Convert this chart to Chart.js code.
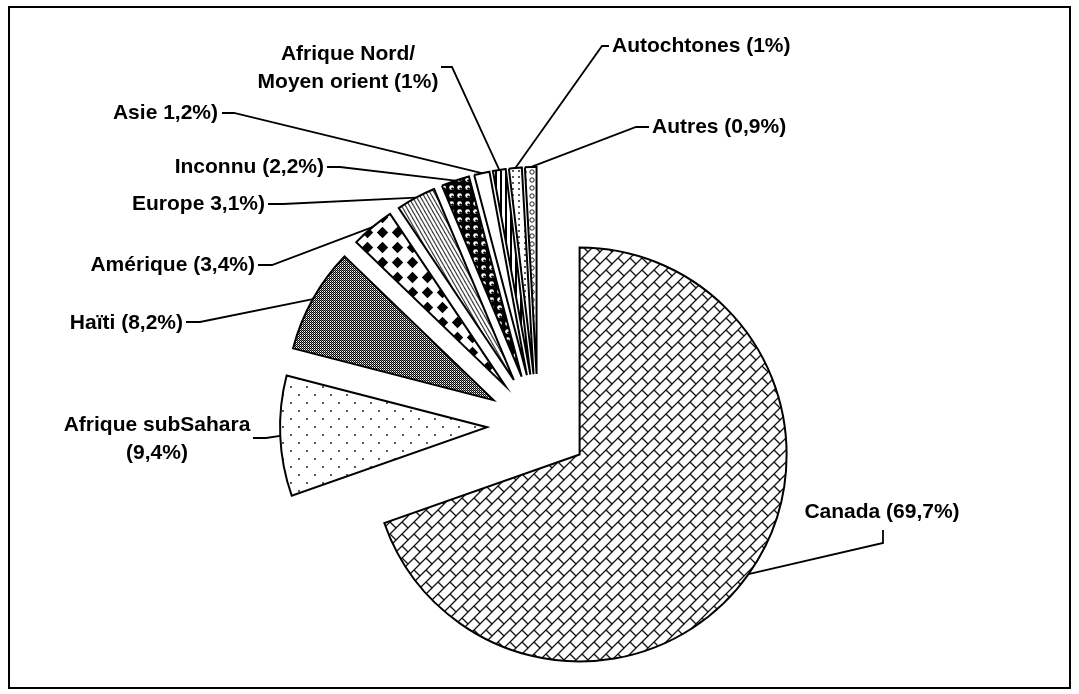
<!DOCTYPE html>
<html lang="fr">
<head>
<meta charset="utf-8">
<title>Origine</title>
<script src="https://cdn.jsdelivr.net/npm/chart.js@4.4.1/dist/chart.umd.min.js"></script>
<style>
    html, body { margin: 0; padding: 0; background: #fff; }
    canvas { display: block; }
</style>
</head>
<body>
<canvas id="chart" width="1079" height="694"></canvas>
<script>
// Data
const categories = ['Canada', 'Afrique subSahara', 'Haïti', 'Amérique', 'Europe', 'Inconnu', 'Asie', 'Afrique Nord/Moyen orient', 'Autochtones', 'Autres'];
const shares = [69.7, 9.4, 8.2, 3.4, 3.1, 2.2, 1.2, 1, 1, 0.9];
const labelTexts = [
    ['Canada (69,7%)'],
    ['Afrique subSahara', '(9,4%)'],
    ['Haïti (8,2%)'],
    ['Amérique (3,4%)'],
    ['Europe 3,1%)'],
    ['Inconnu (2,2%)'],
    ['Asie 1,2%)'],
    ['Afrique Nord/', 'Moyen orient (1%)'],
    ['Autochtones (1%)'],
    ['Autres (0,9%)']
];

const EXPLODE = 51;
const FONT = 'bold 21px "Liberation Sans", Arial, sans-serif';

// label layout: elbow point, stub end, text anchor, alignment
const labelLayout = [
    { elbow: [883, 543], stub: [883, 530], text: [882, 512], align: 'center' },
    { elbow: [266, 438], stub: [253, 438], text: [157, 439], align: 'center' },
    { elbow: [200, 322], stub: [186, 322], text: [183, 323], align: 'right' },
    { elbow: [272, 265], stub: [258, 265], text: [255, 265], align: 'right' },
    { elbow: [283, 204], stub: [268, 204], text: [265, 204], align: 'right' },
    { elbow: [340, 167], stub: [327, 167], text: [324, 167], align: 'right' },
    { elbow: [234, 113], stub: [222, 113], text: [218, 113], align: 'right' },
    { elbow: [452, 67], stub: [441, 67], text: [348, 68], align: 'center' },
    { elbow: [602, 46], stub: [609, 46], text: [612, 46], align: 'left' },
    { elbow: [636, 127], stub: [649, 127], text: [652, 127], align: 'left' }
];

const ctxMain = document.getElementById('chart').getContext('2d');

function makePattern(w, h, draw) {
    const tile = document.createElement('canvas');
    tile.width = w;
    tile.height = h;
    const g = tile.getContext('2d');
    g.fillStyle = '#fff';
    g.fillRect(0, 0, w, h);
    draw(g, w, h);
    return ctxMain.createPattern(tile, 'repeat');
}

// Canada - diagonal brick
const brick = makePattern(12, 12, g => {
    g.strokeStyle = '#111';
    g.lineWidth = 1.3;
    g.beginPath();
    g.moveTo(-1, 13); g.lineTo(13, -1);
    g.moveTo(-1, 1); g.lineTo(1, -1);
    g.moveTo(11, 13); g.lineTo(13, 11);
    g.moveTo(6, 6); g.lineTo(13, 13);
    g.moveTo(-1, -1); g.lineTo(0.5, 0.5);
    g.stroke();
});

// Afrique subSahara - sparse dots
const dots = makePattern(16, 16, g => {
    g.fillStyle = '#333';
    [[3, 3], [11, 11]].forEach(([x, y]) => {
        g.beginPath();
        g.arc(x, y, 1.1, 0, Math.PI * 2);
        g.fill();
    });
});

// Haïti - fine checker
const checker = makePattern(2, 2, g => {
    g.fillStyle = '#000';
    g.fillRect(0, 0, 1, 1);
    g.fillRect(1, 1, 1, 1);
    g.fillStyle = '#888';
    g.fillRect(1, 0, 1, 1);
});

// Amérique - solid diamonds
const diamonds = makePattern(15, 15, g => {
    g.fillStyle = '#000';
    g.beginPath();
    g.moveTo(7.5, 1.8);
    g.lineTo(13.2, 7.5);
    g.lineTo(7.5, 13.2);
    g.lineTo(1.8, 7.5);
    g.closePath();
    g.fill();
});

// Europe - downward diagonal lines
const diagonals = makePattern(4, 7, (g, w, h) => {
    g.strokeStyle = '#444';
    g.lineWidth = 1.2;
    [-w, 0, w].forEach(dx => {
        g.beginPath();
        g.moveTo(dx - w, -h);
        g.lineTo(dx + 2 * w, 2 * h);
        g.stroke();
    });
});

// Inconnu - spheres
const spheres = makePattern(8, 8, g => {
    g.fillStyle = '#000';
    g.fillRect(0, 0, 8, 8);
    g.fillStyle = '#fff';
    g.beginPath();
    g.arc(3.6, 3.6, 2.4, 0, Math.PI * 2);
    g.fill();
    g.fillStyle = '#000';
    g.beginPath();
    g.arc(4.4, 4.6, 1.2, 0, Math.PI * 2);
    g.fill();
});

// Afrique Nord - vertical lines
const verticals = makePattern(5, 2, g => {
    g.fillStyle = '#000';
    g.fillRect(0, 0, 2, 2);
});

// Autochtones - small dots
const smallDots = makePattern(6, 6, g => {
    g.fillStyle = '#222';
    g.beginPath();
    g.arc(3, 3, 1, 0, Math.PI * 2);
    g.fill();
});

// Autres - small rings
const rings = makePattern(8, 8, g => {
    g.strokeStyle = '#222';
    g.lineWidth = 1;
    g.beginPath();
    g.arc(4, 4, 2.2, 0, Math.PI * 2);
    g.stroke();
});

const fills = [brick, dots, checker, diamonds, diagonals, spheres, '#fff', verticals, smallDots, rings];

// move each slice out along its middle angle
const explodePlugin = {
    id: 'explode',
    beforeDatasetsDraw(chart) {
        const area = chart.chartArea;
        const cx = (area.left + area.right) / 2;
        const cy = (area.top + area.bottom) / 2;
        chart.getDatasetMeta(0).data.forEach(arc => {
            const mid = (arc.startAngle + arc.endAngle) / 2;
            arc.x = cx + Math.cos(mid) * EXPLODE;
            arc.y = cy + Math.sin(mid) * EXPLODE;
        });
    }
};

// leader lines, labels and frame
const labelPlugin = {
    id: 'sliceLabels',
    afterDraw(chart) {
        const ctx = chart.ctx;
        ctx.save();
        ctx.strokeStyle = '#000';
        ctx.lineWidth = 2;
        ctx.strokeRect(9, 7, 1061, 681);

        ctx.lineWidth = 1.8;
        ctx.lineJoin = 'miter';
        chart.getDatasetMeta(0).data.forEach((arc, i) => {
            const lay = labelLayout[i];
            const mid = (arc.startAngle + arc.endAngle) / 2;
            const px = arc.x + Math.cos(mid) * arc.outerRadius;
            const py = arc.y + Math.sin(mid) * arc.outerRadius;
            ctx.beginPath();
            ctx.moveTo(px, py);
            ctx.lineTo(lay.elbow[0], lay.elbow[1]);
            ctx.lineTo(lay.stub[0], lay.stub[1]);
            ctx.stroke();

            ctx.fillStyle = '#000';
            ctx.font = FONT;
            ctx.textAlign = lay.align;
            ctx.textBaseline = 'middle';
            const lines = labelTexts[i];
            const lh = 28;
            const y0 = lay.text[1] - (lines.length - 1) * lh / 2;
            lines.forEach((t, j) => ctx.fillText(t, lay.text[0], y0 + j * lh));
        });
        ctx.restore();
    }
};

new Chart(ctxMain, {
    type: 'pie',
    data: {
        labels: categories,
        datasets: [{
            data: shares,
            backgroundColor: fills,
            borderColor: '#000',
            borderWidth: 2,
            borderJoinStyle: 'miter',
            clip: false
        }]
    },
    options: {
        responsive: false,
        animation: false,
        radius: 207,
        layout: {
            padding: { left: 0, right: 3, top: 156, bottom: 0 }
        },
        plugins: {
            legend: { display: false },
            tooltip: { enabled: false }
        }
    },
    plugins: [explodePlugin, labelPlugin]
});
</script>
</body>
</html>
